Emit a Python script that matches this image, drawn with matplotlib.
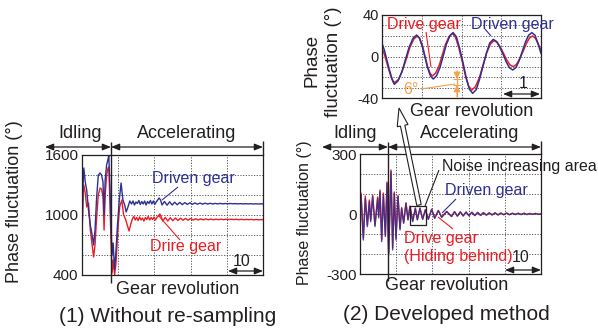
import matplotlib

matplotlib.use("Agg")
import matplotlib.pyplot as plt
from matplotlib.patches import FancyArrow, Rectangle

plt.rcParams["font.family"] = ["Liberation Sans", "DejaVu Sans"]

W, H = 598, 331
BLUE = "#2E3192"
RED = "#ED1C24"
ORANGE = "#F5A04A"
INK = "#231F20"

# (1) without re-sampling: gear revolution vs phase (deg)
raw_blue_rev = [
    0.0, 0.3, 0.5, 0.9, 1.3, 1.8, 2.3, 2.8, 3.2, 3.6, 4.0, 4.5, 5.0, 5.4, 5.8, 6.1, 6.4, 6.8,
    7.2, 7.4, 7.7, 8.0, 8.3, 8.6, 9.0, 9.4, 9.8, 10.3, 10.8, 11.3, 11.8, 12.2, 12.7, 13.2, 13.7,
    14.1, 14.5, 14.9, 15.3, 15.7, 16.1, 16.5, 16.9, 17.3, 17.7, 18.1, 18.5, 18.9, 19.3, 19.7,
    20.1, 20.5, 20.9, 21.3, 21.7, 22.1,
    22.8, 23.5, 24.2, 24.9, 25.6, 26.3, 27.0, 27.7, 28.4, 29.1, 29.8, 30.5, 31.2, 31.9, 32.6,
    33.3, 34.0, 34.7, 35.4, 36.1, 36.8, 37.5, 38.2, 38.9, 39.6, 40.3, 41.0, 41.7, 42.4, 43.1,
    43.8, 44.5, 45.2, 45.9, 46.6, 47.3, 48.0, 48.7, 49.4, 50.0,
]
raw_blue = [
    780, 1300, 1470, 1330, 1250, 1050, 900, 800, 700, 850, 1150, 1400, 1420, 1400, 1330, 1000, 1350, 1500,
    1560, 1595, 1300, 900, 600, 720, 450, 650, 900, 1150, 1320, 1150, 1100, 1030, 1080, 1140, 1110,
    1140, 1100, 1130, 1115, 1145, 1105, 1135, 1110, 1140, 1100, 1135, 1115, 1145, 1110, 1140,
    1105, 1130, 1150, 1170, 1150, 1100,
    1135, 1098, 1132, 1100, 1128, 1102, 1126, 1104, 1124, 1106, 1122, 1107, 1120, 1108, 1119,
    1109, 1118, 1110, 1117, 1110, 1116, 1111, 1116, 1111, 1115, 1112, 1115, 1112, 1114, 1111,
    1114, 1111, 1113, 1111, 1113, 1110, 1112, 1110, 1112, 1110,
]
raw_red_rev = [
    0.0, 0.3, 0.5, 0.9, 1.3, 1.8, 2.3, 2.8, 3.2, 3.6, 4.0, 4.5, 5.0, 5.4, 5.8, 6.1, 6.4, 6.8,
    7.2, 7.4, 7.7, 8.0, 8.3, 8.6, 9.0, 9.4, 9.9, 10.4, 11.0, 11.5, 12.0, 12.5, 13.0, 13.4, 13.9,
    14.3, 14.7, 15.1, 15.5, 15.9, 16.3, 16.7, 17.1, 17.5, 17.9, 18.3, 18.7, 19.1, 19.5, 19.9,
    20.3, 20.7, 21.1, 21.5, 21.9, 22.3,
    23.0, 23.7, 24.4, 25.1, 25.8, 26.5, 27.2, 27.9, 28.6, 29.3, 30.0, 30.7, 31.4, 32.1, 32.8,
    33.5, 34.2, 34.9, 35.6, 36.3, 37.0, 37.7, 38.4, 39.1, 39.8, 40.5, 41.2, 41.9, 42.6, 43.3,
    44.0, 44.7, 45.4, 46.1, 46.8, 47.5, 48.2, 48.9, 49.6, 50.0,
]
raw_red = [
    780, 1200, 1300, 1220, 1080, 1120, 850, 700, 580, 700, 950, 1200, 1270, 1260, 1180, 850, 1200, 1400,
    1470, 1480, 1150, 750, 420, 550, 400, 520, 850, 1080, 1150, 1000, 960, 900, 840, 900, 960,
    985, 950, 975, 945, 980, 950, 970, 940, 975, 955, 985, 950, 975, 955, 980,
    950, 975, 990, 1010, 980, 940,
    975, 940, 972, 943, 970, 945, 968, 947, 966, 948, 965, 949, 963, 950, 962,
    951, 961, 952, 960, 952, 959, 953, 959, 953, 958, 954, 958, 954, 957, 953,
    957, 953, 956, 953, 956, 952, 955, 952, 954, 953,
]

# (2) developed method
dev_rev = [
    0.0, 0.28, 0.92, 1.47, 2.03, 2.58, 2.95, 3.5, 4.14, 4.88, 5.16, 5.52, 5.99, 6.45, 7.0,
    7.46, 7.92, 8.56, 9.02, 9.48, 9.94, 10.5, 11.05, 11.5, 12.06, 12.7, 13.26, 13.8, 14.55,
    15.29, 15.84, 16.57, 17.31, 18.05, 18.88, 19.8, 20.63, 21.64, 22.56, 23.94, 25.3,
    26.1, 26.9, 27.7, 28.5, 29.3, 30.1, 30.9, 31.7, 32.5, 33.3, 34.1, 34.9, 35.7, 36.5, 37.3,
    38.1, 38.9, 39.7, 40.5, 41.3, 42.1, 42.9, 43.7, 44.5, 45.3, 46.1, 46.9, 47.7, 48.5, 49.3, 50.0,
]
dev_blue = [
    0, 95, -130, 78, -63, 62, -38, 87, -63, 78, -20, 112, -138, 95, -113,
    153, -205, 212, -180, 103, -130, 87, -80, 28, -47, 53, -30, 37, -38,
    28, -30, 28, -27, 20, -27, 23, -22, 17, -17, 12, -13,
    11, -11, 10, -10, 9, -9, 8, -8, 7, -7, 6, -6, 5, -5, 5,
    -5, 4, -4, 4, -4, 3, -3, 3, -3, 3, -3, 2, -2, 2, -2, 0,
]
dev_red = [
    0, 105, -120, 90, -55, 70, -30, 95, -55, 85, -12, 120, -128, 105, -105,
    160, -195, 220, -170, 110, -120, 92, -72, 32, -42, 56, -27, 40, -35,
    30, -27, 30, -25, 22, -25, 24, -20, 18, -15, 13, -12,
    12, -10, 11, -9, 10, -8, 9, -7, 8, -6, 7, -5, 6, -4, 6,
    -4, 5, -3, 5, -3, 4, -2, 4, -2, 4, -2, 3, -1, 3, -1, 0,
]

# enlarged view of the noise increasing area
zoom_blue_rev = [
    0.0, 0.06, 0.12, 0.18, 0.24, 0.28, 0.31,
    0.40, 0.50, 0.59, 0.68, 0.78, 0.87,
    0.94, 1.01, 1.08, 1.15, 1.22, 1.29,
    1.37, 1.46, 1.54, 1.62, 1.71, 1.79,
    1.87, 1.95, 2.04, 2.12, 2.20, 2.28,
    2.37, 2.45, 2.54, 2.63, 2.71, 2.80,
    2.88, 2.96, 3.05, 3.13, 3.21, 3.29,
    3.37, 3.45, 3.53, 3.61, 3.69, 3.77,
    3.85, 3.92, 4.0,
]
zoom_blue = [
    12.7, 6, -3, -12, -20, -24.5, -26.8,
    -23.6, -14.9, -3.0, 8.8, 17.5, 20.7,
    17.9, 10.1, -0.5, -11.1, -18.9, -21.7,
    -18.7, -10.5, 0.6, 11.8, 20.0, 23.0,
    19.1, 8.4, -6.2, -20.9, -31.6, -35.5,
    -32.0, -22.5, -9.5, 3.5, 13.0, 16.5,
    14.5, 9.1, 1.8, -5.6, -11.0, -13.0,
    -10.6, -4.0, 5.0, 14.0, 20.6, 23.0,
    20.5, 13.0, 3.0,
]
zoom_red_rev = [
    0.0, 0.06, 0.12, 0.18, 0.24, 0.28, 0.32,
    0.42, 0.51, 0.61, 0.70, 0.80, 0.89,
    0.95, 1.02, 1.08, 1.14, 1.21, 1.27,
    1.35, 1.44, 1.52, 1.60, 1.69, 1.77,
    1.85, 1.93, 2.02, 2.10, 2.18, 2.26,
    2.35, 2.45, 2.54, 2.63, 2.73, 2.82,
    2.90, 2.98, 3.06, 3.14, 3.22, 3.30,
    3.38, 3.46, 3.55, 3.63, 3.71, 3.79,
    3.86, 3.93, 4.0,
]
zoom_red = [
    8, 2, -6, -14, -21, -24, -25,
    -22.0, -13.8, -2.6, 8.6, 16.8, 19.8,
    17.2, 10.2, 0.5, -9.1, -16.2, -18.8,
    -16.0, -8.5, 1.8, 12.0, 19.5, 22.3,
    18.6, 8.7, -5.0, -18.7, -28.6, -32.3,
    -29.1, -20.4, -8.5, 3.4, 12.1, 15.3,
    13.6, 9.0, 2.8, -3.5, -8.1, -9.8,
    -7.8, -2.4, 5.0, 12.4, 17.8, 19.8,
    17.5, 12.0, 6.3,
]


def add_panel(fig, box, xlim, xticks, ylim, yticks, ylabels, tick_size):
    x0, y0, x1, y1 = box
    ax = fig.add_axes([x0 / W, 1 - y1 / H, (x1 - x0) / W, (y1 - y0) / H])
    ax.set_xlim(*xlim)
    ax.set_ylim(*ylim)
    ax.set_xticks(xticks)
    ax.set_xticklabels([])
    ax.set_yticks(yticks)
    ax.set_yticklabels(ylabels)
    ax.tick_params(length=0, pad=2.5, labelsize=tick_size, colors=INK)
    ax.grid(True, linestyle=(0, (1.2, 1.6)), color="#555555", linewidth=0.7)
    ax.set_axisbelow(True)
    for sp in ax.spines.values():
        sp.set_color(INK)
        sp.set_linewidth(0.9)
    return ax


def main() -> None:
    fig = plt.figure(figsize=(W / 100, H / 100), dpi=100)

    # left panel
    ax1 = add_panel(fig, (82, 155, 263, 275), (0, 50), [0, 10, 20, 30, 40, 50],
                    (400, 1600), list(range(400, 1601, 200)),
                    ["400", "", "", "1000", "", "", "1600"], 11)
    ax1.plot(raw_red_rev, raw_red, color=RED, lw=1.0)
    ax1.plot(raw_blue_rev, raw_blue, color=BLUE, lw=1.0)

    # right panel
    ax2 = add_panel(fig, (360, 154, 541, 274), (0, 50), [0, 10, 20, 30, 40, 50],
                    (-300, 300), list(range(-300, 301, 100)),
                    ["-300", "", "", "0", "", "", "300"], 11)
    ax2.plot(dev_rev, dev_red, color=RED, lw=1.0)
    ax2.plot(dev_rev, dev_blue, color=BLUE, lw=1.0, alpha=0.85)

    # inset
    ax3 = add_panel(fig, (382, 15, 541, 98), (0, 4), [0, 1, 2, 3, 4],
                    (-40, 40), list(range(-40, 41, 10)),
                    ["-40", "", "", "", "0", "", "", "", "40"], 10.5)
    ax3.plot(zoom_red_rev, zoom_red, color=RED, lw=1.1)
    ax3.plot(zoom_blue_rev, zoom_blue, color=BLUE, lw=1.1)

    # overlay in pixel units for labels and annotations
    ov = fig.add_axes([0, 0, 1, 1], zorder=10)
    ov.set_xlim(0, W)
    ov.set_ylim(H, 0)
    ov.axis("off")

    def txt(x, y, s, size, color=INK, **kw):
        ov.text(x, y, s, fontsize=size, color=color, ha=kw.pop("ha", "center"), va="center", **kw)

    def line(xs, ys, color=INK, lw=0.8):
        ov.plot(xs, ys, color=color, lw=lw, solid_capstyle="butt")

    def span(xa, xb, y, color=INK):
        ov.annotate("", xy=(xb, y), xytext=(xa, y),
                    arrowprops=dict(arrowstyle="<|-|>,head_length=0.5,head_width=0.2",
                                    color=color, lw=0.9, shrinkA=0, shrinkB=0))

    # left panel texts
    txt(15, 202, "Phase fluctuation (°)", 13, rotation=90)
    txt(178, 289, "Gear revolution", 13)
    txt(168, 316, "(1) Without re-sampling", 15)
    txt(80, 134, "Idling", 13)
    txt(187, 134, "Accelerating", 13)
    line([111, 111], [142, 283], lw=1.0)
    line([263, 263], [141, 155], lw=1.0)
    span(45, 111, 147)
    span(111, 263, 147)
    txt(193, 179, "Driven gear", 11.5, color=BLUE)
    line([178, 162], [187, 200], color=BLUE)
    txt(186, 247, "Drire gear", 11.5, color=RED)
    line([158, 180], [215, 240], color=RED)
    txt(242, 261, "10", 11.5)
    span(228, 263, 271)

    # right panel texts
    txt(305, 213, "Phase fluctuation (°)", 11.5, rotation=90)
    txt(447, 286, "Gear revolution", 13)
    txt(446, 314, "(2) Developed method", 15)
    txt(355, 134, "Idling", 13)
    txt(470, 134, "Accelerating", 13)
    line([388, 388], [142, 281], lw=1.0)
    line([541, 541], [141, 154], lw=1.0)
    span(322, 388, 147)
    span(388, 541, 147)
    ov.add_patch(Rectangle((410, 206), 16, 19, fill=False, ec=INK, lw=0.9))
    txt(442, 166, "Noise increasing area", 11.5, ha="left")
    line([425, 439], [206, 170])
    txt(486, 191, "Driven gear", 11.5, color=BLUE)
    line([456, 442], [199, 213], color=BLUE)
    txt(441, 238, "Drive gear", 11.5, color=RED)
    txt(458, 257, "(Hiding behind)", 11.5, color=RED)
    line([438, 453], [217, 229], color=RED)
    txt(521, 257, "10", 11.5)
    span(505, 541, 270)
    ov.add_patch(FancyArrow(419, 205, -20, -97, width=4.5, head_width=11, head_length=18,
                            length_includes_head=True, fc="white", ec=INK, lw=0.8))

    # inset texts
    txt(312, 60, "Phase", 13.5, rotation=90)
    txt(334, 62, "fluctuation (°)", 13.5, rotation=90)
    txt(472, 112, "Gear revolution", 13)
    txt(424, 24, "Drive gear", 11.5, color=RED)
    line([426, 431], [32, 67], color=RED)
    txt(512, 24, "Driven gear", 11.5, color=BLUE)
    line([485, 491], [29, 36], color=BLUE)
    txt(523, 84, "1", 11.5)
    span(503, 540, 94)
    txt(411, 89, "6°", 11.5, color=ORANGE)
    line([421, 455], [89, 84], color=ORANGE)
    line([457, 457], [71, 97], color=ORANGE)
    line([453, 461], [79, 79], color=ORANGE)
    line([453, 461], [85, 85], color=ORANGE)
    ov.annotate("", xy=(457, 79), xytext=(457, 71),
                arrowprops=dict(arrowstyle="-|>,head_length=0.4,head_width=0.2", color=ORANGE,
                                lw=0.8, shrinkA=0, shrinkB=0))
    ov.annotate("", xy=(457, 85), xytext=(457, 97),
                arrowprops=dict(arrowstyle="-|>,head_length=0.4,head_width=0.2", color=ORANGE,
                                lw=0.8, shrinkA=0, shrinkB=0))

    fig.savefig("out.png", dpi=100)
    plt.close(fig)


if __name__ == "__main__":
    main()
